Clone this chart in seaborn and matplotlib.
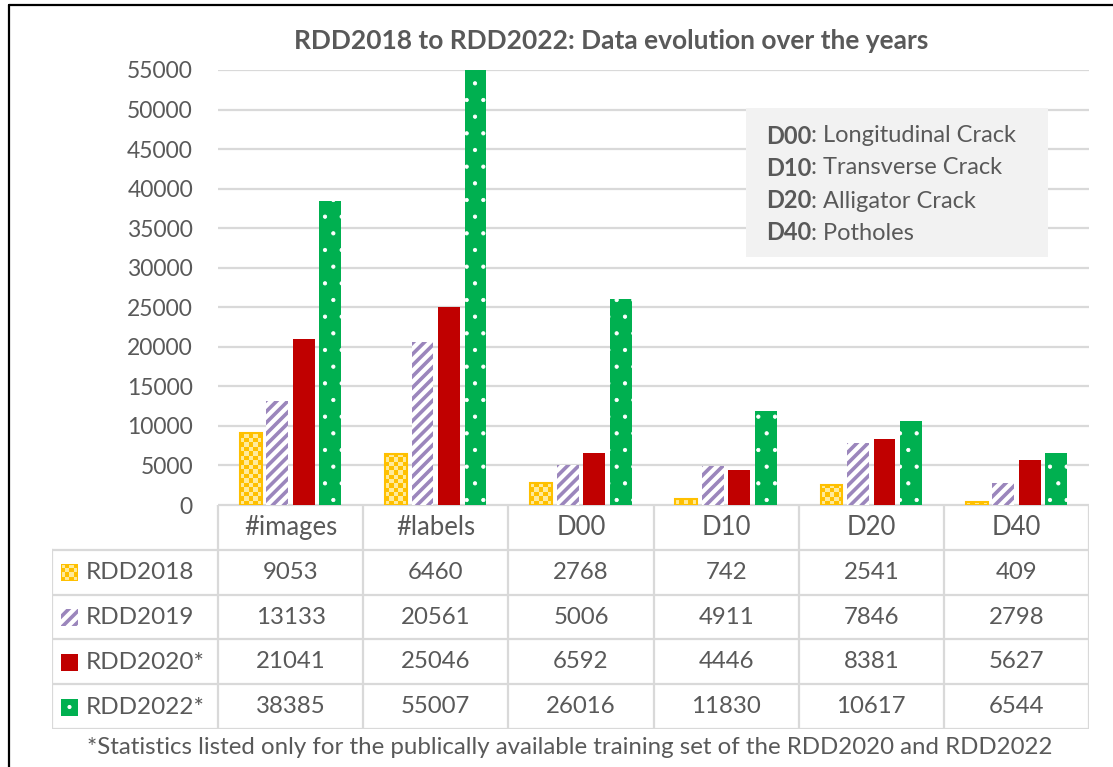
import numpy as np
import pandas as pd
import matplotlib
matplotlib.use("Agg")
import matplotlib.pyplot as plt
import matplotlib.patches as mpatches
from matplotlib.colors import ListedColormap
import seaborn as sns

# ---------------- data ----------------
categories = ["#images", "#labels", "D00", "D10", "D20", "D40"]
series_names = ["RDD2018", "RDD2019", "RDD2020*", "RDD2022*"]
rdd2018 = [9053, 6460, 2768, 742, 2541, 409]
rdd2019 = [13133, 20561, 5006, 4911, 7846, 2798]
rdd2020 = [21041, 25046, 6592, 4446, 8381, 5627]
rdd2022 = [38385, 55007, 26016, 11830, 10617, 6544]
y_ticks = list(range(0, 55001, 5000))
title = "RDD2018 to RDD2022: Data evolution over the years"
caption = "*Statistics listed only for the publically available training set of the RDD2020 and RDD2022"
legend_keys = ["D00", "D10", "D20", "D40"]
legend_desc = ["Longitudinal Crack", "Transverse Crack", "Alligator Crack", "Potholes"]

series_values = [rdd2018, rdd2019, rdd2020, rdd2022]
df = pd.DataFrame({
    "category": np.repeat([categories], len(series_names), axis=0).ravel(),
    "series": np.repeat(series_names, len(categories)),
    "value": np.concatenate(series_values),
})

# ---------------- style ----------------
sns.set_theme(style="white")
plt.rcParams["font.family"] = ["Lato", "DejaVu Sans"]
TXT = "#595959"
GRID = "#D9D9D9"
colors = ["#FFC000", "#8064A2", "#C00000", "#00B050"]
faces = ["none", "#FFFFFF", "#C00000", "#00B050"]
hatches = [None, "///", None, "."]
hatch_cols = ["#FFC000", "#9B86BC", None, "#FFFFFF"]
hatch_lws = [1.0, 2.6, 1.0, 0.6]
checker_cmap = ListedColormap(["#FFEB9C", "#FFC000"])

W, H = 1113, 767
fig = plt.figure(figsize=(W / 100, H / 100), dpi=100)

def fx(px):
    return px / W

def fy(py):
    return 1 - py / H

# main axes: x 218..1089, y 70..505
ax = fig.add_axes([fx(218), fy(505), fx(1089) - fx(218), fy(70) - fy(505)])
sns.barplot(data=df, x="category", y="value", hue="series", order=categories,
            hue_order=series_names, palette=colors, width=0.73, gap=0.18,
            legend=False, ax=ax, saturation=1, zorder=3)
ax.set_xlim(-0.5, len(categories) - 0.5)
ax.set_ylim(0, 55000)

def style_patch(p, i):
    p.set_facecolor(faces[i])
    if i == 0:
        p.set_edgecolor(colors[0])
        p.set_linewidth(1.5)
    elif hatches[i]:
        p.set_hatch(hatches[i])
        p.set_edgecolor(hatch_cols[i])
        p.set_linewidth(0)
        try:
            p.set_hatch_linewidth(hatch_lws[i])
        except AttributeError:
            pass
    else:
        p.set_edgecolor(colors[i])
        p.set_linewidth(0)

for i, cont in enumerate(ax.containers):
    for p in cont.patches:
        style_patch(p, i)
        if i == 0:
            x0, y0 = p.get_x(), p.get_y()
            w, h = p.get_width(), p.get_height()
            (px0, py0), (px1, py1) = ax.transData.transform([(x0, y0), (x0 + w, y0 + h)])
            nx = max(1, int(round((px1 - px0) / 4.4)))
            ny = max(1, int(round((py1 - py0) / 4.4)))
            ii, jj = np.indices((ny, nx))
            img = ax.imshow((ii + jj) % 2, cmap=checker_cmap, extent=(x0, x0 + w, y0, y0 + h),
                            aspect="auto", interpolation="nearest", origin="lower", zorder=2.9)
            img.set_clip_path(p)
            p.set_zorder(3.1)

ax.set_xlim(-0.5, len(categories) - 0.5)
ax.set_ylim(0, 55000)
ax.set_aspect("auto")
ax.set_yticks(y_ticks)
ax.set_yticklabels([str(v) for v in y_ticks], fontsize=16.5, color=TXT)
ax.tick_params(axis="y", length=0, pad=18)
ax.set_xticks([])
ax.set_xlabel("")
ax.set_ylabel("")
for s in ax.spines.values():
    s.set_visible(False)
ax.grid(axis="y", color=GRID, linewidth=1.6, zorder=0)
ax.set_axisbelow(True)

# ---------------- table ----------------
row_tops = [505, 550, 595, 640, 685, 729]
tax = fig.add_axes([fx(52), fy(729), fx(1089) - fx(52), fy(505) - fy(729)])
x_left = -0.5 - (218 - 52) / 145.0
x_right = len(categories) - 0.5
tax.set_xlim(x_left, x_right)
tax.set_ylim(5, 0)
tax.axis("off")
lkw = dict(color=GRID, linewidth=1.6, solid_capstyle="projecting")
tax.plot([-0.5, x_right], [0, 0], **lkw)
for r in range(1, 6):
    tax.plot([x_left, x_right], [r, r], **lkw)
tax.plot([x_left, x_left], [1, 5], **lkw)
for c in range(len(categories) + 1):
    tax.plot([c - 0.5, c - 0.5], [0, 5], **lkw)

for j, cat in enumerate(categories):
    tax.text(j, 0.5, cat, ha="center", va="center", fontsize=18.5, color=TXT)
for i, (name, vals) in enumerate(zip(series_names, series_values)):
    for j, v in enumerate(vals):
        tax.text(j, i + 1.5, str(v), ha="center", va="center", fontsize=17.3, color=TXT)

# legend keys inside table (tiny axes each)
key_x0 = 61
key_size = 17
for i, name in enumerate(series_names):
    yc = (row_tops[i + 1] + row_tops[i + 2]) / 2.0
    kax = fig.add_axes([fx(key_x0), fy(yc + key_size / 2), fx(key_size), fy(0) - fy(key_size)])
    kax.set_xlim(0, 1)
    kax.set_ylim(0, 1)
    kax.axis("off")
    if i == 0:
        ii, jj = np.indices((4, 4))
        kax.imshow((ii + jj) % 2, cmap=checker_cmap, extent=(0, 1, 0, 1), aspect="auto",
                   interpolation="nearest")
        kax.add_patch(mpatches.Rectangle((0, 0), 1, 1, facecolor="none", edgecolor=colors[0],
                                         linewidth=1.5))
    else:
        r = mpatches.Rectangle((0, 0), 1, 1)
        style_patch(r, i)
        if i == 3:
            r.set_hatch(None)
        kax.add_patch(r)
        if i == 3:
            kax.add_patch(mpatches.Circle((0.5, 0.5), 0.08, color="white"))
    fig.text(fx(86), fy(yc), name, ha="left", va="center", fontsize=17.5, color=TXT)

# ---------------- title & caption ----------------
fig.text(fx(611), fy(41), title, ha="center", va="center", fontsize=19,
         fontweight="bold", color=TXT)
fig.text(fx(570), fy(748), caption, ha="center", va="center", fontsize=17.3, color=TXT)

# ---------------- info box ----------------
fig.add_artist(mpatches.Rectangle((fx(746), fy(257)), fx(1048) - fx(746), fy(108) - fy(257),
                                  transform=fig.transFigure, facecolor="#F2F2F2",
                                  edgecolor="none", zorder=5))
renderer = fig.canvas.get_renderer()
line_ys = [136, 168, 201, 233]
for k, d, ly in zip(legend_keys, legend_desc, line_ys):
    t = fig.text(fx(766), fy(ly), k, ha="left", va="center", fontsize=17,
                 fontweight="bold", color=TXT, zorder=6)
    bb = t.get_window_extent(renderer=renderer)
    fig.text(bb.x1 / W, fy(ly), ": " + d, ha="left", va="center", fontsize=17,
             color=TXT, zorder=6)

# ---------------- outer border ----------------
fig.add_artist(plt.Line2D([fx(9), fx(9)], [fy(5), 0], transform=fig.transFigure,
                          color="black", linewidth=1.6))
fig.add_artist(plt.Line2D([fx(9), 1], [fy(5), fy(5)], transform=fig.transFigure,
                          color="black", linewidth=1.6))

fig.savefig("out.png", dpi=100, facecolor="white")
